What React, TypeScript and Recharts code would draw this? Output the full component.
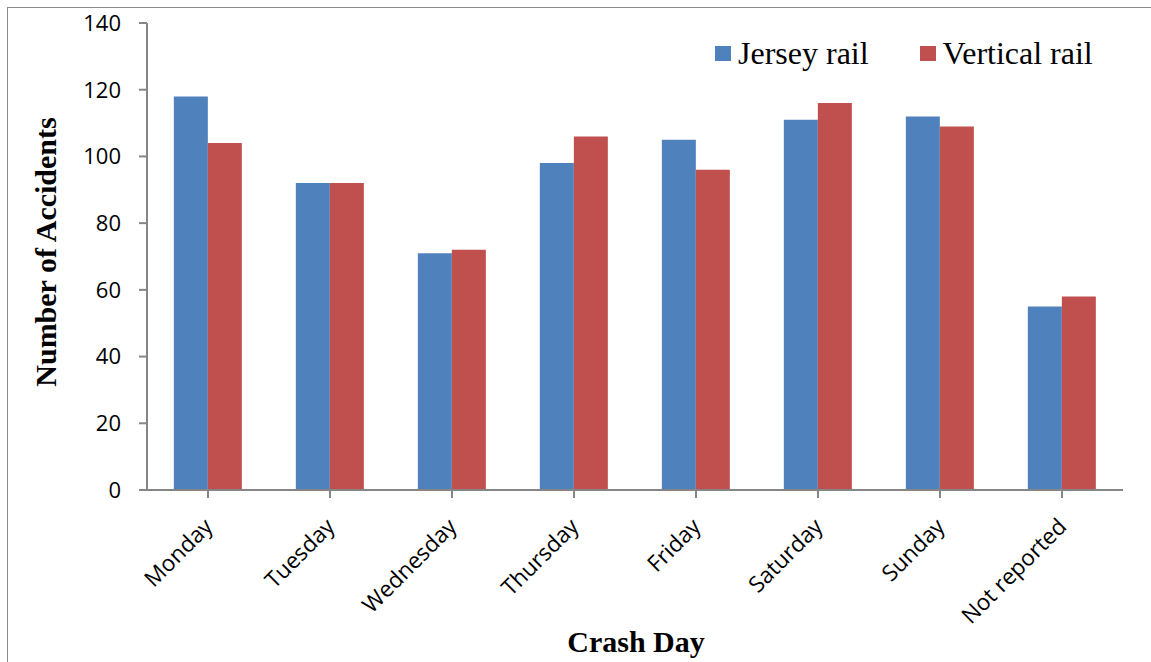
import React from "react";
import { BarChart, Bar, XAxis, YAxis, Legend, Label } from "recharts";

const categories = ["Monday", "Tuesday", "Wednesday", "Thursday", "Friday", "Saturday", "Sunday", "Not reported"];
const jerseyRail = [118, 92, 71, 98, 105, 111, 112, 55];
const verticalRail = [104, 92, 72, 106, 96, 116, 109, 58];
const yTicks = [0, 20, 40, 60, 80, 100, 120, 140];
const seriesNames = ["Jersey rail", "Vertical rail"];
const colors = ["#4F81BD", "#C0504D"];

const data = categories.map((c, i) => ({ day: c, jersey: jerseyRail[i], vertical: verticalRail[i] }));

const AXIS = "#868686";
const TICK_FONT = "'Open Sans', sans-serif";
const SERIF = "'Liberation Serif', 'Times New Roman', serif";

const XTick = (props: any) => {
  const { x, y, payload } = props;
  return (
    <g transform={`translate(${x},${y})`}>
      <text x={6} y={28} textAnchor="end" transform="rotate(-45 6 28)" fontFamily={TICK_FONT} fontSize={22.5} fill="#000">
        {payload.value}
      </text>
    </g>
  );
};

const LegendContent = () => (
  <div style={{ display: "flex", alignItems: "center", fontFamily: SERIF, fontSize: 32, color: "#000" }}>
    {seriesNames.map((n, i) => (
      <div key={n} style={{ display: "flex", alignItems: "center", marginRight: i === 0 ? 51 : 0 }}>
        <span style={{ display: "inline-block", width: 16, height: 15, background: colors[i], marginRight: 7 }} />
        <span>{n}</span>
      </div>
    ))}
  </div>
);

export default function App() {
  return (
    <div style={{ position: "absolute", left: 0, top: 0, width: 1151, height: 662, overflow: "hidden", background: "#fff" }}>
      <div style={{ position: "absolute", left: 7, top: 7, width: 1300, height: 800, borderLeft: "1.5px solid #8a8a8a", borderTop: "1.5px solid #8a8a8a" }} />
      <div style={{ position: "absolute", left: 0, top: 0 }}>
        <BarChart width={1151} height={662} data={data} margin={{ top: 23, right: 28, left: 0, bottom: 0 }} barCategoryGap="22%" barGap={0}>
          <XAxis dataKey="day" height={172} interval={0} tick={<XTick />} tickSize={8} stroke={AXIS} strokeWidth={2} tickLine={{ stroke: AXIS, strokeWidth: 2 }}>
            <Label content={() => (
              <text x={636} y={652} textAnchor="middle" fontFamily={SERIF} fontWeight="bold" fontSize={30} fill="#000">Crash Day</text>
            )} />
          </XAxis>
          <YAxis width={147} domain={[0, 140]} ticks={yTicks} interval={0} tickSize={8} tickMargin={18} stroke={AXIS} strokeWidth={2}
            tick={{ fontFamily: TICK_FONT, fontSize: 22, fill: "#000" }} tickLine={{ stroke: AXIS, strokeWidth: 2 }}>
            <Label content={() => (
              <text x={56} y={252} textAnchor="middle" transform="rotate(-90 56 252)" fontFamily={SERIF} fontWeight="bold" fontSize={30} fill="#000">Number of Accidents</text>
            )} />
          </YAxis>
          <Legend layout="horizontal" verticalAlign="middle" align="center" content={<LegendContent />} wrapperStyle={{ position: "absolute", top: 35, left: 715, width: 430, height: 40 }} />
          <Bar dataKey="jersey" name={seriesNames[0]} fill={colors[0]} isAnimationActive={false} />
          <Bar dataKey="vertical" name={seriesNames[1]} fill={colors[1]} isAnimationActive={false} />
        </BarChart>
      </div>
    </div>
  );
}
